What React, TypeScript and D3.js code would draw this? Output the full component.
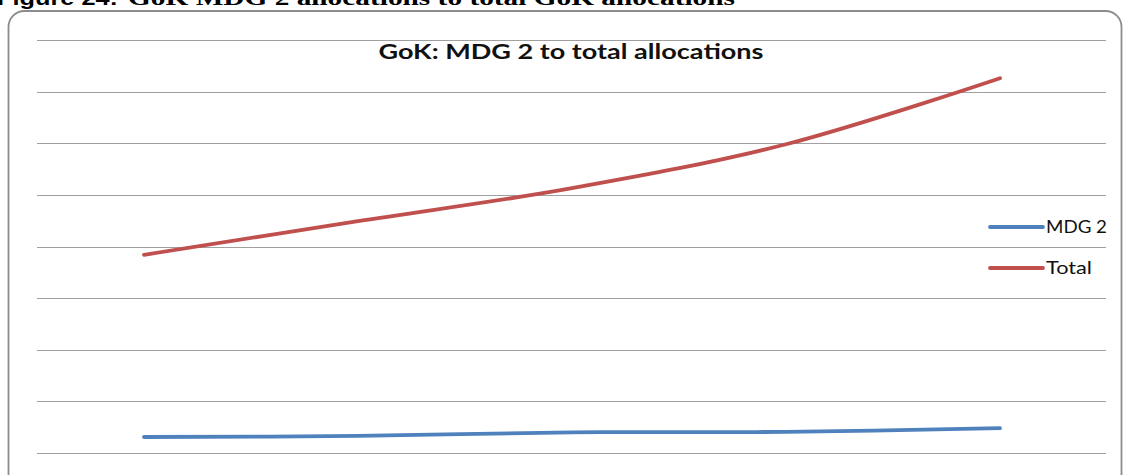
import React from "react";
import * as d3 from "d3";

const categories = ["P1", "P2", "P3", "P4", "P5"];
const mdg2Values = [31, 33, 40, 41, 48];
const totalValues = [384, 449, 513, 598, 726];
const yTicks = [0, 100, 200, 300, 400, 500, 600, 700, 800];
const seriesNames = ["MDG 2", "Total"];
const seriesColors = ["#4F81BD", "#C0504D"];
const chartTitle = "GoK: MDG 2 to total allocations";
const captionLead = "Figure 24:";
const captionRest = "GoK MDG 2 allocations to total GoK allocations";

export default function App() {
  const W = 1123;
  const H = 475;
  const plotLeft = 37;
  const plotRight = 1107;
  const plotTop = 40;
  const plotBottom = 453;
  const legendTextWidths = [61, 46];

  const x = d3.scaleBand<string>().domain(categories).range([plotLeft, plotRight]);
  const y = d3.scaleLinear().domain([0, 800]).range([plotBottom, plotTop]);
  const cx = (c: string) => (x(c) as number) + x.bandwidth() / 2;

  const line = d3
    .line<number>()
    .x((_, i) => cx(categories[i]))
    .y((d) => y(d))
    .curve(d3.curveCatmullRom.alpha(0.5));

  const series = [mdg2Values, totalValues];

  return (
    <svg
      width={W}
      height={H}
      style={{ position: "absolute", left: 0, top: 0, background: "#fff" }}
    >
      <rect x={0} y={0} width={W} height={H} fill="#fff" />
      {/* caption, cut at top as in the source */}
      <text
        x={-3}
        y={5}
        fill="#000"
        fontWeight="bold"
        fontFamily="Liberation Sans, Arial, sans-serif"
        fontSize={20}
        textLength={121}
        lengthAdjust="spacingAndGlyphs"
      >
        {captionLead}
      </text>
      <text
        x={128}
        y={5}
        fill="#000"
        fontWeight="bold"
        fontFamily="Liberation Serif, Times New Roman, serif"
        fontSize={21}
        textLength={607}
        lengthAdjust="spacingAndGlyphs"
      >
        {captionRest}
      </text>
      {/* frame */}
      <rect
        x={8.5}
        y={11}
        width={1113}
        height={500}
        rx={16}
        ry={16}
        fill="none"
        stroke="#8c8c8c"
        strokeWidth={1.8}
      />
      {/* gridlines */}
      {yTicks.map((t) => (
        <line
          key={t}
          x1={plotLeft}
          x2={1106}
          y1={Math.round(y(t)) + 0.5}
          y2={Math.round(y(t)) + 0.5}
          stroke="#a0a0a0"
          strokeWidth={1.2}
        />
      ))}
      {/* title */}
      <text
        x={571}
        y={59}
        textAnchor="middle"
        fontFamily="Lato, Open Sans, sans-serif"
        fontWeight="bold"
        fontSize={20}
        fill="#111"
        textLength={385}
        lengthAdjust="spacingAndGlyphs"
      >
        {chartTitle}
      </text>
      {/* lines */}
      {series.map((vals, i) => (
        <path
          key={seriesNames[i]}
          d={line(vals) as string}
          fill="none"
          stroke={seriesColors[i]}
          strokeWidth={3.8}
          strokeLinecap="round"
        />
      ))}
      {/* legend */}
      {seriesNames.map((n, i) => (
        <g key={n} transform={`translate(0, ${227 + i * 41})`}>
          <line
            x1={990}
            x2={1043}
            y1={0}
            y2={0}
            stroke={seriesColors[i]}
            strokeWidth={3.8}
            strokeLinecap="round"
          />
          <text
            x={1046}
            y={6}
            fontFamily="Lato, Open Sans, sans-serif"
            fontSize={17}
            fill="#111"
            textLength={legendTextWidths[i]}
            lengthAdjust="spacingAndGlyphs"
          >
            {n}
          </text>
        </g>
      ))}
    </svg>
  );
}
